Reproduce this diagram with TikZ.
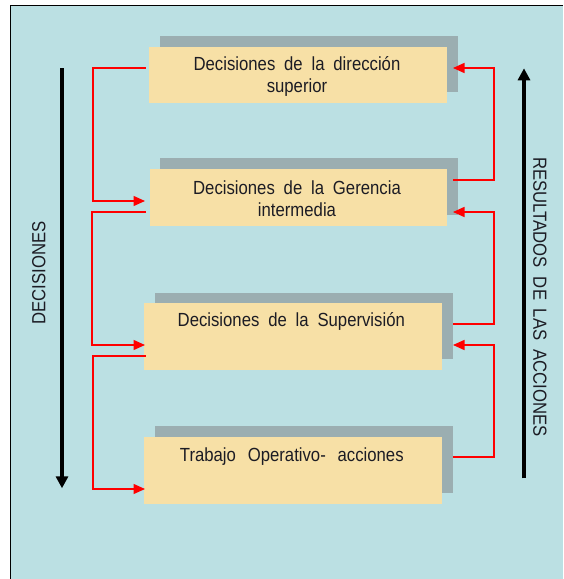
\documentclass[tikz,border=0pt]{standalone}
\usepackage{fontspec}
\setmainfont{Liberation Sans}[FakeStretch=0.88,WordSpace=1.9]
\usetikzlibrary{arrows.meta,calc}
\definecolor{bgblue}{HTML}{BBE0E3}
\definecolor{boxyellow}{HTML}{F7E0A6}
\definecolor{shadowgray}{HTML}{9BAEB1}
\definecolor{txtcol}{HTML}{1C1C24}
\begin{document}
\begin{tikzpicture}[x=1pt,y=-1pt,
  shadowbox/.style={fill=shadowgray,draw=none,inner sep=0pt,outer sep=0pt,anchor=north west},
  ybox/.style={fill=boxyellow,draw=none,inner sep=0pt,outer sep=0pt,anchor=north west},
  boxtext/.style={inner sep=0pt,text=txtcol,align=center,font=\fontsize{19}{22}\selectfont},
  vlabel/.style={inner sep=0pt,text=txtcol,text depth=0pt,font=\fontsize{19}{22}\selectfont},
  redarrow/.style={draw=red,line width=1.4pt,-{Triangle[length=11.5pt,width=10pt]}},
  bigarrow/.style={draw=black,line width=4.5pt,-{Triangle[length=12pt,width=12pt]}}]
\useasboundingbox (0,0) rectangle (563,579);
% frame
\fill[bgblue] (10.5,5.5) rectangle (563,579);
\draw[black,line width=1.5pt] (10.5,579) -- (10.5,5.5) -- (563,5.5);
% shadows
\node[shadowbox,minimum width=298pt,minimum height=55.7pt] (s1) at (160,36) {};
\node[shadowbox,minimum width=298pt,minimum height=57pt] (s2) at (160,158) {};
\node[shadowbox,minimum width=297.5pt,minimum height=66.3pt] (s3) at (155,292.7) {};
\node[shadowbox,minimum width=297.5pt,minimum height=67.3pt] (s4) at (155,425.7) {};
% boxes
\node[ybox,minimum width=298.5pt,minimum height=55.5pt] (b1) at (148.5,47) {};
\node[ybox,minimum width=297.5pt,minimum height=57pt] (b2) at (149.5,169) {};
\node[ybox,minimum width=297.2pt,minimum height=66.7pt] (b3) at (144.3,303.3) {};
\node[ybox,minimum width=297.2pt,minimum height=66.8pt] (b4) at (144.3,436.7) {};
% texts (base = baseline of last line)
\node[boxtext,anchor=base] (t1) at (297,92.7) {Decisiones de la dirección\\superior};
\node[boxtext,anchor=base] (t2) at (297,216) {Decisiones de la Gerencia\\intermedia};
\node[boxtext,anchor=base] (t3) at (291.3,326.7) {Decisiones de la Supervisión};
\node[boxtext,anchor=base] (t4) at (291.8,461.7) {Trabajo\hspace{3pt} Operativo-\hspace{3pt} acciones};
% side labels
\node[vlabel,rotate=90] (dec) at (38.7,272.8) {DECISIONES};
\node[vlabel,rotate=-90] (res) at (540,297) {RESULTADOS DE LAS ACCIONES};
% big arrows
\coordinate (dtop) at (62,68);
\coordinate (dbot) at (62,488.3);
\coordinate (rbot) at (524,478.3);
\coordinate (rtop) at (524,68.3);
\draw[bigarrow] (dtop) -- (dbot);
\draw[bigarrow] (rbot) -- (rtop);
% left red connectors
\draw[redarrow] ($(b1.north west)+(-3,21)$) -- ++(-52.5,0) |- ($(b2.north west)+(-4.5,32)$);
\draw[redarrow] ($(b2.north west)+(-4,43)$) -- ++(-53.5,0) |- ($(b3.north west)+(0.7,41.7)$);
\draw[redarrow] ($(b3.north west)+(1.2,52.7)$) -- ++(-52.5,0) |- ($(b4.north west)+(0.7,52.3)$);
% right red connectors
\draw[redarrow] ($(b2.north east)+(6,11)$) -- ++(41,0) |- ($(b1.north east)+(6,21)$);
\draw[redarrow] ($(b3.north east)+(11.5,20.7)$) -- ++(41,0) |- ($(b2.north east)+(6,43)$);
\draw[redarrow] ($(b4.north east)+(11,20.3)$) -- ++(41.5,0) |- ($(b3.north east)+(11.5,41.7)$);
\end{tikzpicture}
\end{document}
